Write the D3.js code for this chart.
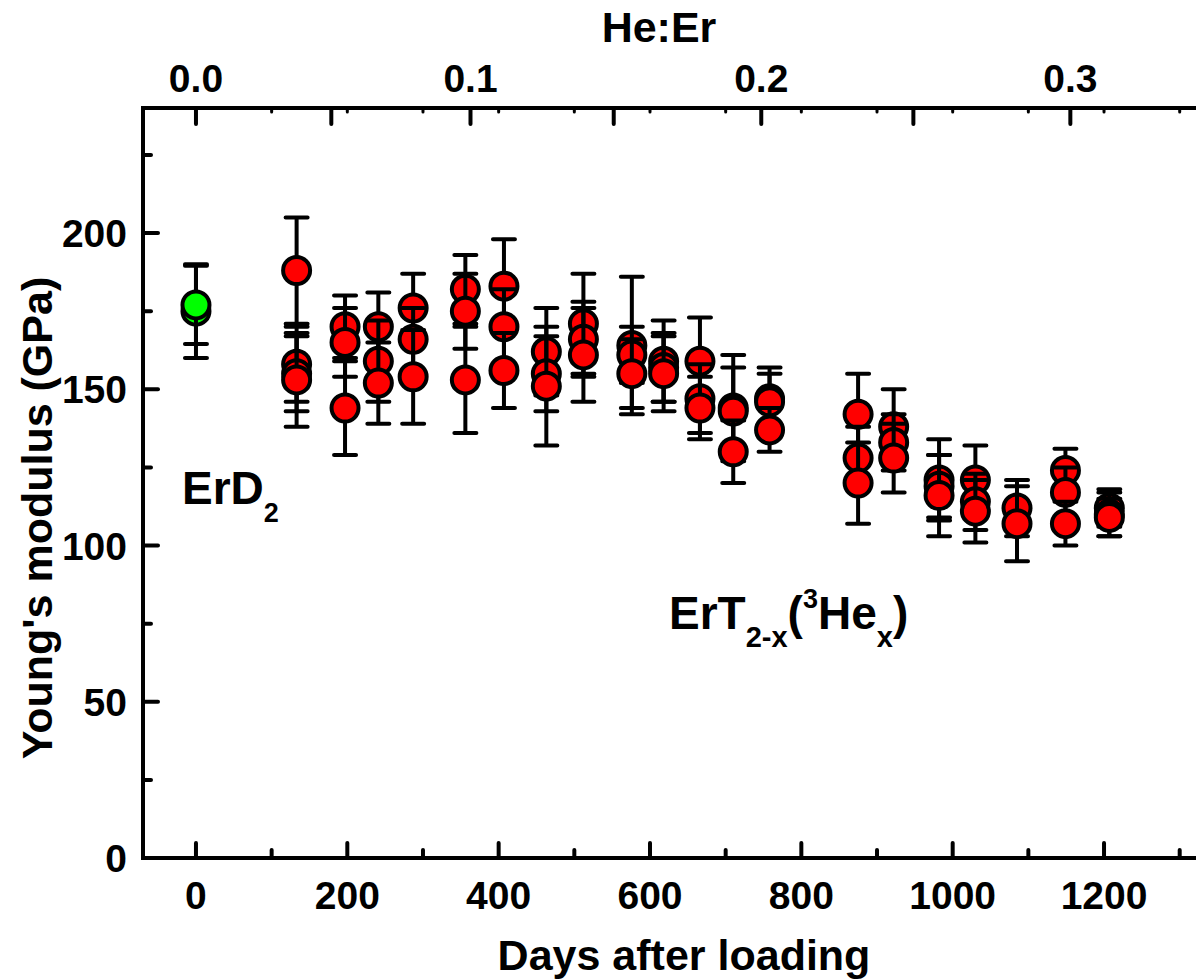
<!DOCTYPE html>
<html>
<head>
<meta charset="utf-8">
<script src="https://cdn.jsdelivr.net/npm/d3@7"></script>
<style>
  html, body { margin: 0; padding: 0; background: #fff; }
  svg text { font-family: Arial, "Liberation Sans", sans-serif; font-weight: bold; fill: #000; }
</style>
</head>
<body>
<div id="chart"></div>
<script>
// ErD2 reference (day 0)
const greenDays = [0, 0];
const greenModulus = [175, 177];
const greenError = [15, 12.5];

// ErT2-x(3Hex) measurements
const redDays = [
  133, 133, 133, 133,
  197, 197, 197,
  241, 241, 241,
  287, 287, 287,
  356, 356, 356,
  407, 407, 407,
  463, 463, 463,
  512, 512, 512,
  576, 576, 576,
  618, 618, 618,
  666, 666, 666,
  710, 710, 710,
  758, 758, 758,
  875, 875, 875,
  922, 922, 922,
  982, 982, 982,
  1030, 1030, 1030,
  1085, 1085,
  1149, 1149, 1149,
  1207, 1207, 1207
];
const redModulus = [
  188, 158, 155, 153,
  170, 165, 144,
  170, 159, 152,
  176, 166, 154,
  182, 175, 153,
  183, 170, 156,
  162, 155, 151,
  171, 166, 161,
  164, 161, 155,
  159, 157, 155,
  159, 147, 144,
  144, 143, 130,
  147, 146, 137,
  142, 128, 120,
  138, 133, 128,
  121, 119, 116,
  121, 114, 111,
  112, 107,
  124, 117, 107,
  112, 110, 109
];
const redError = [
  17, 12, 12, 15,
  10, 11, 15,
  11, 13, 13,
  11, 10, 15,
  11, 12, 17,
  15, 12, 12,
  14, 12, 19,
  16, 12, 15,
  22, 9, 11,
  13, 11, 12,
  14, 11, 10,
  17, 14, 10,
  10, 9, 7,
  13, 10, 13,
  12, 9, 11,
  13, 10, 13,
  11, 9, 10,
  9, 12,
  7, 8, 7,
  6, 7, 6
];

// axis ticks
const dayMajorTicks = [0, 200, 400, 600, 800, 1000, 1200];
const dayMinorTicks = [100, 300, 500, 700, 900, 1100, 1300];
const yMajorTicks = [0, 50, 100, 150, 200];
const yMinorTicks = [25, 75, 125, 175, 225];
const heMajorTicks = [0, 0.05, 0.1, 0.15, 0.2, 0.25, 0.3];
const heLabels = ['0.0', '0.1', '0.2', '0.3'];
const heMinorDays = [100, 200, 300, 400, 500, 600, 700, 800, 900, 1000, 1100, 1200, 1300];

// He:Er grows as tritium decays (t1/2 = 4500 d)
const halfLife = 4500;
const heMax = 1.84;
const heToDays = h => -Math.log(1 - h / heMax) * halfLife / Math.LN2;

const width = 1196, height = 980;

const x = d3.scaleLinear().domain([-70, 1330]).range([143, 1202.4]);
const y = d3.scaleLinear().domain([0, 240]).range([858, 108]);

const svg = d3.select('#chart')
  .append('svg')
  .attr('width', width)
  .attr('height', height);

const axisG = svg.append('g')
  .attr('stroke', '#000')
  .attr('stroke-linecap', 'round');

// frame
axisG.append('path')
  .attr('d', `M${x.range()[1]},${y(240)}H${x(-70)}V${y(0)}H${x.range()[1]}`)
  .attr('fill', 'none')
  .attr('stroke-width', 4)
  .attr('stroke-linecap', 'square');

// left ticks
axisG.selectAll('.ymaj').data(yMajorTicks).enter().append('line')
  .attr('x1', x(-70)).attr('x2', x(-70) + 15)
  .attr('y1', d => y(d)).attr('y2', d => y(d))
  .attr('stroke-width', 4);
axisG.selectAll('.ymin').data(yMinorTicks).enter().append('line')
  .attr('x1', x(-70)).attr('x2', x(-70) + 8)
  .attr('y1', d => y(d)).attr('y2', d => y(d))
  .attr('stroke-width', 4);

// bottom ticks
axisG.selectAll('.xmaj').data(dayMajorTicks).enter().append('line')
  .attr('x1', d => x(d)).attr('x2', d => x(d))
  .attr('y1', y(0)).attr('y2', y(0) - 15)
  .attr('stroke-width', 4);
axisG.selectAll('.xmin').data(dayMinorTicks).enter().append('line')
  .attr('x1', d => x(d)).attr('x2', d => x(d))
  .attr('y1', y(0)).attr('y2', y(0) - 8)
  .attr('stroke-width', 4);

// top ticks
axisG.selectAll('.hmaj').data(heMajorTicks).enter().append('line')
  .attr('x1', d => x(heToDays(d))).attr('x2', d => x(heToDays(d)))
  .attr('y1', y(240)).attr('y2', y(240) + 16)
  .attr('stroke-width', 4);
axisG.selectAll('.hmin').data(heMinorDays).enter().append('line')
  .attr('x1', d => x(d)).attr('x2', d => x(d))
  .attr('y1', y(240)).attr('y2', y(240) + 4)
  .attr('stroke-width', 3);

// tick labels
svg.selectAll('.ylab').data(yMajorTicks).enter().append('text')
  .attr('x', 127).attr('y', d => y(d) + 14)
  .attr('text-anchor', 'end')
  .attr('font-size', 39)
  .text(d => d);

svg.selectAll('.xlab').data(dayMajorTicks).enter().append('text')
  .attr('x', d => x(d)).attr('y', 909)
  .attr('text-anchor', 'middle')
  .attr('font-size', 39)
  .text(d => d);

svg.selectAll('.hlab').data(heLabels).enter().append('text')
  .attr('x', d => x(heToDays(+d))).attr('y', 92)
  .attr('text-anchor', 'middle')
  .attr('font-size', 39)
  .text(d => d);

// axis titles
svg.append('text')
  .attr('x', 659).attr('y', 42)
  .attr('text-anchor', 'middle')
  .attr('font-size', 43)
  .text('He:Er');

svg.append('text')
  .attr('x', 684).attr('y', 970)
  .attr('text-anchor', 'middle')
  .attr('font-size', 43)
  .text('Days after loading');

svg.append('text')
  .attr('transform', 'translate(52,518) rotate(-90)')
  .attr('text-anchor', 'middle')
  .attr('font-size', 43)
  .text("Young's modulus (GPa)");

// points: error bar then symbol, in order
const points = greenDays.map((d, i) => ({day: d, value: greenModulus[i], err: greenError[i], fill: '#00ff00'}))
  .concat(redDays.map((d, i) => ({day: d, value: redModulus[i], err: redError[i], fill: '#ff0000'})));

const capHalf = 11;
const pts = svg.append('g').selectAll('g').data(points).enter().append('g');

pts.append('path')
  .attr('d', d => {
    const cx = x(d.day), top = y(d.value + d.err), bot = y(d.value - d.err);
    return `M${cx},${top}V${bot}M${cx - capHalf},${top}H${cx + capHalf}M${cx - capHalf},${bot}H${cx + capHalf}`;
  })
  .attr('fill', 'none')
  .attr('stroke', '#000')
  .attr('stroke-width', 4)
  .attr('stroke-linecap', 'round');

pts.append('circle')
  .attr('cx', d => x(d.day))
  .attr('cy', d => y(d.value))
  .attr('r', 13.5)
  .attr('fill', d => d.fill)
  .attr('stroke', '#000')
  .attr('stroke-width', 4);

// annotations
const erd = svg.append('text')
  .attr('x', 182).attr('y', 504)
  .attr('font-size', 46);
erd.append('tspan').text('ErD');
erd.append('tspan').attr('font-size', 27).attr('dy', 18).text('2');

const ert = svg.append('text')
  .attr('x', 669).attr('y', 629)
  .attr('font-size', 46);
ert.append('tspan').text('ErT');
ert.append('tspan').attr('font-size', 29).attr('dy', 18).text('2-x');
ert.append('tspan').attr('dy', -18).text('(');
ert.append('tspan').attr('font-size', 27).attr('dy', -21).text('3');
ert.append('tspan').attr('dy', 21).text('He');
ert.append('tspan').attr('font-size', 29).attr('dy', 18).text('x');
ert.append('tspan').attr('dy', -18).text(')');
</script>
</body>
</html>
